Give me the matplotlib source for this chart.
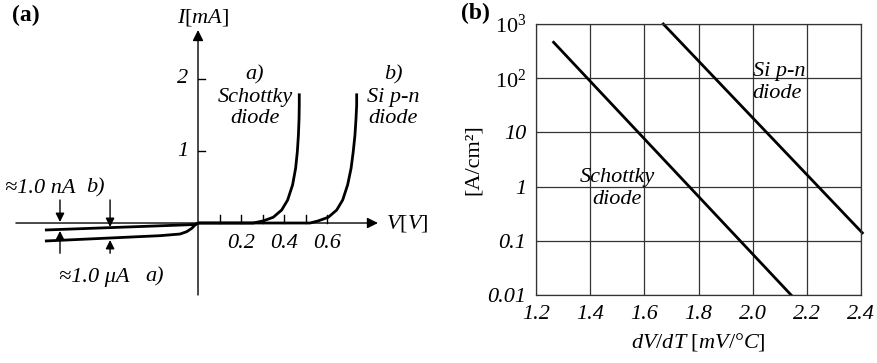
import matplotlib
matplotlib.use("Agg")
import matplotlib.pyplot as plt

plt.rcParams['font.family'] = 'Liberation Serif'
plt.rcParams['mathtext.fontset'] = 'custom'
plt.rcParams['mathtext.rm'] = 'Liberation Serif'
plt.rcParams['mathtext.it'] = 'Liberation Serif:italic'
plt.rcParams['mathtext.bf'] = 'Liberation Serif:bold'

# (a) I-V characteristics, V in volts, I in mA (reverse branch schematic)
schottky_v = [0.0, 0.25, 0.257, 0.304, 0.350, 0.389, 0.417, 0.440, 0.454, 0.462, 0.467, 0.470, 0.471, 0.471]
schottky_i = [0.0, 0.0, 0.0, 0.03, 0.08, 0.18, 0.32, 0.53, 0.76, 0.99, 1.22, 1.45, 1.64, 1.80]
sipn_v = [0.0, 0.515, 0.521, 0.560, 0.606, 0.645, 0.673, 0.696, 0.712, 0.722, 0.730, 0.735, 0.738, 0.738]
sipn_i = [0.0, 0.0, 0.0, 0.03, 0.08, 0.18, 0.32, 0.53, 0.76, 0.99, 1.22, 1.45, 1.64, 1.80]
rev_a_v = [-0.712, -0.177, -0.084, -0.053, -0.029, -0.014, 0.0]
rev_a_i = [-0.25, -0.176, -0.153, -0.121, -0.074, -0.028, 0.0]
rev_b_v = [-0.712, -0.014, 0.0]
rev_b_i = [-0.097, -0.021, 0.0]
v_ticks = [0.1, 0.2, 0.3, 0.4, 0.5, 0.6]
v_ticklabels = ['0.2', '0.4', '0.6']
i_ticks = [1, 2]

# (b) current density vs temperature coefficient
dvdt_ticks = [1.2, 1.4, 1.6, 1.8, 2.0, 2.2, 2.4]
j_ticks = [0.01, 0.1, 1, 10, 100, 1000]
j_ticklabels = ['0.01', '0.1', '1', '10', r'$\mathit{10}^{\mathit{2}}$', r'$\mathit{10}^{\mathit{3}}$']
schottky_dvdt = [1.265, 2.142]
schottky_j = [460, 0.01]
sipn_dvdt = [1.67, 2.405]
sipn_j = [1000, 0.14]

fs = 16
fig = plt.figure(figsize=(8.77, 3.63), dpi=100)

# ---- panel (a) ----
ax = fig.add_axes([0, 0, 440 / 877, 1])
ax.set_xlim(-0.921, 1.1256)
ax.set_ylim(-1.944, 3.097)
ax.axis('off')

arr = dict(arrowstyle='-|>', lw=1.0, color='k', mutation_scale=16, shrinkA=0, shrinkB=0)
ax.annotate('', xy=(0.837, 0), xytext=(-0.847, 0), arrowprops=arr)
ax.annotate('', xy=(0, 2.68), xytext=(0, -1.0), arrowprops=arr)
for v in v_ticks:
    ax.plot([v, v], [0, 0.11], color='k', lw=1.0)
for i in i_ticks:
    ax.plot([0, 0.033], [i, i], color='k', lw=1.0)
for lab in v_ticklabels:
    ax.text(float(lab), -0.28, lab, fontsize=fs, style='italic', ha='center', va='center')
for i in i_ticks:
    ax.text(-0.047, i, str(i), fontsize=fs, style='italic', ha='right', va='center')

ax.text(0.023, 2.86, r'$I[mA]$', fontsize=fs, ha='center', va='center')
ax.text(0.874, 0, r'$V[V]$', fontsize=fs, ha='left', va='center')

for xs, ys in [(schottky_v, schottky_i), (sipn_v, sipn_i),
               (rev_a_v, rev_a_i), (rev_b_v, rev_b_i)]:
    ax.plot(xs, ys, color='k', lw=2.0, solid_capstyle='butt', solid_joinstyle='round')

ax.text(0.265, 1.75, 'a)\nSchottky\ndiode', fontsize=fs, style='italic',
        ha='center', va='center', linespacing=1.2)
ax.text(0.907, 1.75, 'b)\nSi p-n\ndiode', fontsize=fs, style='italic',
        ha='center', va='center', linespacing=1.2)

# leakage current markers
small = dict(arrowstyle='-|>', lw=1.0, color='k', mutation_scale=13, shrinkA=0, shrinkB=0)
ax.annotate('', xy=(-0.642, 0.014), xytext=(-0.642, 0.32), arrowprops=small)
ax.annotate('', xy=(-0.642, -0.11), xytext=(-0.642, -0.42), arrowprops=small)
ax.annotate('', xy=(-0.409, -0.055), xytext=(-0.409, 0.32), arrowprops=small)
ax.annotate('', xy=(-0.409, -0.236), xytext=(-0.409, -0.42), arrowprops=small)

ax.text(-0.898, 0.486, '≈1.0 nA', fontsize=fs, style='italic', ha='left', va='center')
ax.text(-0.479, 0.486, 'b)', fontsize=fs, style='italic', ha='center', va='center')
ax.text(-0.647, -0.75, '≈1.0 μA', fontsize=fs, style='italic', ha='left', va='center')
ax.text(-0.200, -0.75, 'a)', fontsize=fs, style='italic', ha='center', va='center')

fig.text(12 / 877, 1 - 15 / 363, '(a)', fontsize=fs + 1, fontweight='bold', ha='left', va='center')

# ---- panel (b) ----
bx = fig.add_axes([536 / 877, 1 - 295 / 363, 325 / 877, 271 / 363])
bx.set_yscale('log')
bx.set_xlim(1.2, 2.4)
bx.set_ylim(0.01, 1000)
bx.set_xticks(dvdt_ticks)
bx.set_xticklabels(['%.1f' % t for t in dvdt_ticks], style='italic', fontsize=fs)
bx.set_yticks(j_ticks)
bx.set_yticklabels(j_ticklabels, style='italic', fontsize=fs)
bx.minorticks_off()
bx.tick_params(length=0, pad=7)
bx.grid(True, color='#333333', lw=0.9)
for s in bx.spines.values():
    s.set_color('#333333')
    s.set_linewidth(0.9)

bx.plot(schottky_dvdt, schottky_j, color='k', lw=2.0)
bx.plot(sipn_dvdt, sipn_j, color='k', lw=2.0, clip_on=False)

bx.text(2.0, 82, 'Si p-n\ndiode', fontsize=fs, style='italic', ha='left', va='center', linespacing=1.2)
bx.text(1.5, 0.91, 'Schottky\ndiode', fontsize=fs, style='italic', ha='center', va='center', linespacing=1.2)

bx.set_xlabel(r'$dV/dT$ [$mV$/°$C$]', fontsize=fs, labelpad=5)
bx.set_ylabel('[A/cm²]', fontsize=fs, labelpad=3)

fig.text(475 / 877, 1 - 13 / 363, '(b)', fontsize=fs + 1, fontweight='bold', ha='center', va='center')

fig.savefig('out.png', dpi=100, facecolor='white')
